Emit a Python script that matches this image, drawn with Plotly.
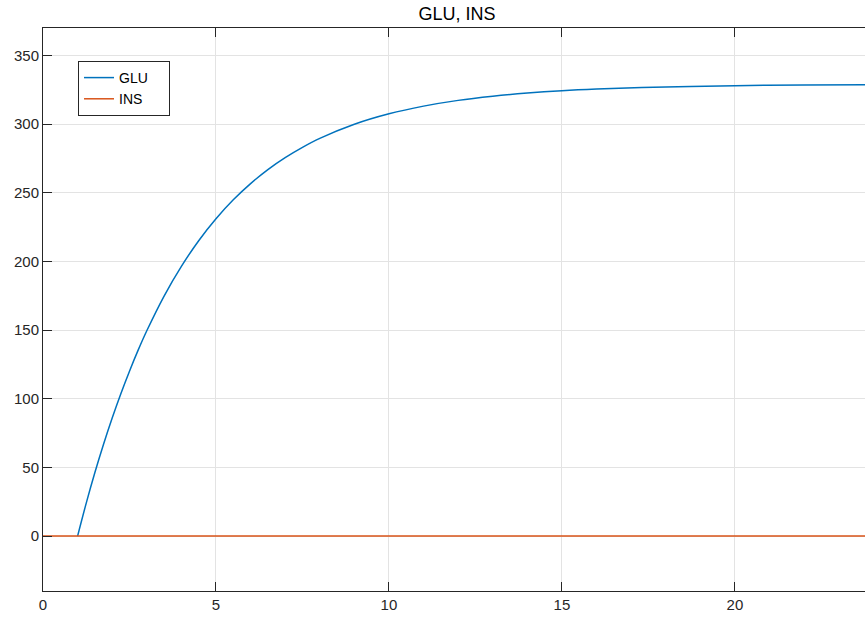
import plotly.graph_objects as go

# Data
t_glu = [1, 1.25, 1.5, 1.75, 2, 2.25, 2.5, 2.75, 3, 3.5, 4, 4.5, 5, 5.5, 6, 6.5,
         7, 7.5, 8, 9, 10, 11, 12, 13, 14, 15, 16, 18, 20, 22, 24]
glu = [0, 24.0, 46.3, 66.9, 86.0, 103.7, 120.1, 135.4, 149.5, 174.8, 196.4,
       215.1, 231.1, 244.9, 256.7, 266.9, 275.6, 283.1, 289.6, 299.9, 307.5,
       313.1, 317.3, 320.3, 322.6, 324.3, 325.5, 327.1, 328.0, 328.5, 328.7]
t_ins = [0, 24]
ins = [0, 0]
series_names = ["GLU", "INS"]

x_ticks = [0, 5, 10, 15, 20]
y_ticks = [0, 50, 100, 150, 200, 250, 300, 350]

FONT = "Liberation Sans, Arial, Helvetica, sans-serif"
AX = "#262626"
PAD = "\u00a0" * 4

fig = go.Figure()
fig.add_trace(go.Scatter(x=t_glu, y=glu, mode="lines", name=series_names[0] + PAD,
                         line=dict(color="#0072BD", width=1.5, shape="spline", smoothing=1)))
fig.add_trace(go.Scatter(x=t_ins, y=ins, mode="lines", name=series_names[1] + PAD,
                         line=dict(color="#D95319", width=1.5)))

fig.update_layout(
    width=865, height=617,
    margin=dict(l=43, r=0, t=28, b=26),
    paper_bgcolor="white", plot_bgcolor="white",
    font=dict(family=FONT, size=15, color=AX),
    title=dict(text="GLU, INS", x=0.5036, xref="paper", xanchor="center",
               y=1 - 14 / 617, yref="container", yanchor="middle",
               font=dict(family=FONT, size=18, color="black")),
    showlegend=True,
    legend=dict(x=0.0426, y=0.9414, xanchor="left", yanchor="top",
                bgcolor="white", bordercolor=AX, borderwidth=1,
                font=dict(family=FONT, size=14, color="black"),
                tracegroupgap=0),
    xaxis=dict(range=[0, 23.76], tickvals=x_ticks, ticks="inside", ticklen=9,
               tickcolor=AX, showline=True, linecolor=AX, linewidth=1,
               mirror="allticks", showgrid=True, gridcolor="#e3e3e3", gridwidth=1,
               zeroline=False, tickfont=dict(family=FONT, size=15, color=AX)),
    yaxis=dict(range=[-40, 370], tickvals=y_ticks, ticks="inside", ticklen=9,
               tickcolor=AX, showline=True, linecolor=AX, linewidth=1,
               showgrid=True, gridcolor="#e3e3e3", gridwidth=1,
               zeroline=False, tickfont=dict(family=FONT, size=15, color=AX)),
)

fig.write_html("out.html", config={"displayModeBar": False},
               post_script="document.body.style.margin='0';document.body.style.padding='0';")
